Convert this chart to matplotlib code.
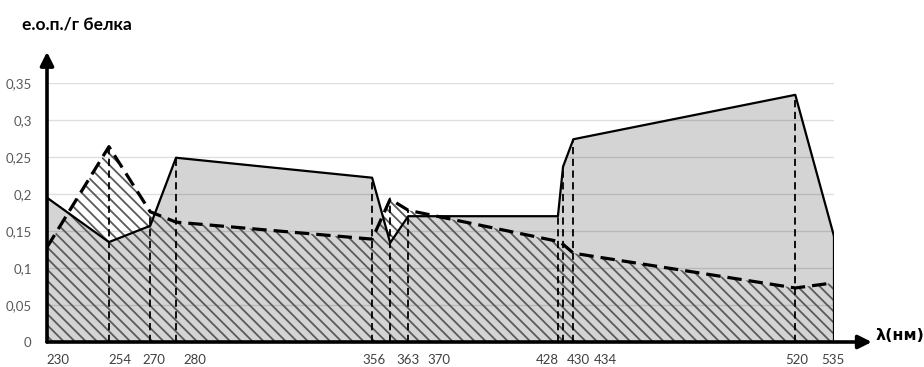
import matplotlib
matplotlib.use('Agg')
import matplotlib.pyplot as plt
import numpy as np

# длины волн, нм
wavelengths = [230, 254, 270, 280, 356, 363, 370, 428, 430, 434, 520, 535]
# сплошная линия (серая заливка)
eop_solid = [0.195, 0.135, 0.157, 0.249, 0.222, 0.134, 0.170, 0.170, 0.237, 0.274, 0.334, 0.143]
# пунктир (штриховка)
eop_dashed = [0.128, 0.264, 0.176, 0.162, 0.139, 0.193, 0.178, 0.136, 0.132, 0.120, 0.073, 0.080]

tick_labels = ['230', '254', '270', '280', '356', '363', '370', '428', '430', '434', '520', '535']
y_ticks = [0, 0.05, 0.1, 0.15, 0.2, 0.25, 0.3, 0.35]
y_tick_labels = ['0', '0,05', '0,1', '0,15', '0,2', '0,25', '0,3', '0,35']

# подписи оси X сдвинуты, чтобы не налезали друг на друга
label_pos = [234.3, 258.3, 271.5, 287.4, 356.7, 369.9, 381.9, 423.8, 435.8, 446.3, 520.7, 534.6]

plt.rcParams['font.family'] = ['Lato', 'DejaVu Sans']
plt.rcParams['hatch.linewidth'] = 1.3

fig = plt.figure(figsize=(9.24, 3.67), dpi=100)
ax = fig.add_axes([47 / 924, 25 / 367, 787 / 924, 259 / 367])
ax.set_xlim(230, 535)
ax.set_ylim(0, 0.35)

x = np.array(wavelengths)
ys = np.array(eop_solid)
yd = np.array(eop_dashed)

ax.fill_between(x, 0, ys, facecolor='#d4d4d4', linewidth=0, zorder=1)
for yv in y_ticks[1:]:
    ax.axhline(yv, color='black', alpha=0.13, lw=1, zorder=1.5)
ax.fill_between(x, 0, yd, facecolor='none', edgecolor='#5a5a5a',
                hatch='\\' * 3, linewidth=0, zorder=2)

# вертикальные пунктиры
for xi, a, b in zip(x[1:-1], ys[1:-1], yd[1:-1]):
    ax.plot([xi, xi], [0, max(a, b)], color='black', lw=1.3,
            dashes=(4, 2.5), zorder=3)

ax.plot(x, ys, color='black', lw=1.6, zorder=4)
ax.plot([x[-1], x[-1]], [0, ys[-1]], color='black', lw=1.6, zorder=4)
ax.plot([x[0], x[0]], [0, ys[0]], color='black', lw=1.6, zorder=4)
ax.plot(x, yd, color='black', lw=2.3, dashes=(4.5, 2.2), zorder=4)

for s in ax.spines.values():
    s.set_visible(False)
ax.set_xticks([])
ax.set_yticks(y_ticks)
ax.set_yticklabels(y_tick_labels, fontsize=9.5, color='#595959')
ax.tick_params(axis='y', length=0, pad=11)

# оси со стрелками
ax.annotate('', xy=(0, 1.12), xytext=(0, 0), xycoords='axes fraction',
            annotation_clip=False,
            arrowprops=dict(arrowstyle='-|>', lw=2.6, color='black',
                            mutation_scale=20, shrinkA=0, shrinkB=0))
ax.annotate('', xy=(1.048, 0), xytext=(0, 0), xycoords='axes fraction',
            annotation_clip=False,
            arrowprops=dict(arrowstyle='-|>', lw=2.6, color='black',
                            mutation_scale=20, shrinkA=0, shrinkB=0))

trans = ax.get_xaxis_transform()
for xp, lab in zip(label_pos, tick_labels):
    ax.text(xp, -0.07, lab, transform=trans, ha='center', va='center',
            fontsize=9.5, color='#404040')

fig.text(875 / 924, 1 - 335 / 367, 'λ(нм)', ha='left', va='center',
         fontsize=11.5, fontweight='bold', family=['DejaVu Sans'])
fig.text(22 / 924, 1 - 24 / 367, 'е.о.п./г белка', ha='left', va='center',
         fontsize=12.5, fontweight='bold')

fig.savefig('out.png', dpi=100)
